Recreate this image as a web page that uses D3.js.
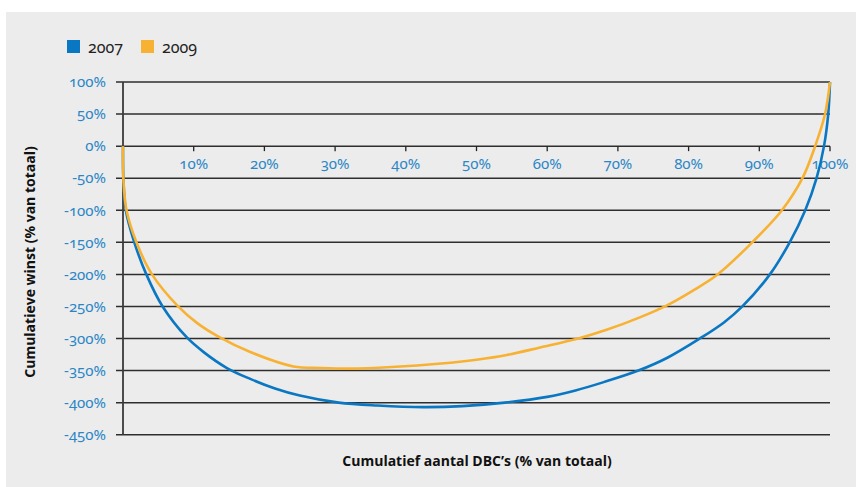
<!DOCTYPE html>
<html>
<head>
<meta charset="utf-8">
<script src="https://cdn.jsdelivr.net/npm/d3@7"></script>
<style>
  html, body { margin: 0; padding: 0; background: #ffffff; }
  svg { display: block; }
  .tick-label { font-family: "Noto Sans", sans-serif; font-variant-numeric: oldstyle-nums; font-feature-settings: "onum" 1; fill: #2a86c6; font-size: 15px; }
  .legend-text { font-family: "Noto Sans", sans-serif; font-variant-numeric: oldstyle-nums; font-feature-settings: "onum" 1; fill: #222; font-size: 16px; }
  .axis-title { font-family: "Open Sans", "Noto Sans", sans-serif; font-weight: 700; font-size: 14px; fill: #111; }
</style>
</head>
<body>
<script>
// Cumulative share of DBCs (%) against cumulative profit (% of total)
const seriesNames = ["2007", "2009"];
const seriesColors = ["#0a77c2", "#f8b233"];

const x2007 = [0, 0.05, 0.4, 1.6, 3.3, 5.6, 9.0, 11.5, 14.7, 18, 21.5, 25, 30.5, 36, 42.5, 48, 54, 60, 64, 68, 72.9, 77, 81.6, 85, 87.6, 91.5, 94.3, 96.5, 98.1, 99.15, 99.75, 100];
const y2007 = [0, -50, -100, -150, -200, -250, -298, -322, -346, -363, -378, -389, -400, -404.5, -407, -405.5, -400, -391, -381, -368, -350, -330, -300, -275, -250, -200, -150, -100, -50, 0, 50, 100];

const x2009 = [0, 0.05, 0.5, 1.9, 4.1, 7.8, 10.5, 13.5, 18, 24.1, 28, 32, 38, 45, 50, 54.3, 59, 64.4, 68.4, 73.1, 76.8, 80.5, 84, 89, 93.2, 96.1, 97.9, 99.3, 100];
const y2009 = [0, -50, -100, -150, -200, -250, -276, -297, -321, -343.6, -346, -347, -344.5, -339, -333, -325.6, -314, -300, -286.5, -267, -249, -226, -201, -150, -100, -50, 0, 50, 100];

const xTicks = [10, 20, 30, 40, 50, 60, 70, 80, 90, 100];
const yTicks = [100, 50, 0, -50, -100, -150, -200, -250, -300, -350, -400, -450];

const xTitle = "Cumulatief aantal DBC\u2019s (% van totaal)";
const yTitle = "Cumulatieve winst (% van totaal)";

const W = 856, H = 487;
const svg = d3.select("body").append("svg").attr("width", W).attr("height", H);

// panel background
svg.append("rect").attr("x", 6).attr("y", 12).attr("width", W - 6).attr("height", H - 12).attr("fill", "#ececec");

const x = d3.scaleLinear().domain([0, 100]).range([123, 830]);
const y = d3.scaleLinear().domain([-450, 100]).range([434.7, 82]);

// horizontal grid lines, extending left of the axis as ticks
svg.append("g").selectAll("line").data(yTicks).join("line")
  .attr("x1", 116).attr("x2", 830)
  .attr("y1", d => y(d)).attr("y2", d => y(d))
  .attr("stroke", "#2e2e2e").attr("stroke-width", 1.5);

// y tick labels
svg.append("g").selectAll("text").data(yTicks).join("text")
  .attr("class", "tick-label")
  .attr("x", 106).attr("y", d => y(d)).attr("dy", "0.35em")
  .attr("text-anchor", "end")
  .text(d => d + "%");

// vertical axis line
svg.append("line").attr("x1", x(0)).attr("x2", x(0)).attr("y1", y(100)).attr("y2", y(-450))
  .attr("stroke", "#3a3a3a").attr("stroke-width", 1.8);

// x ticks on the zero line
svg.append("g").selectAll("line").data(xTicks).join("line")
  .attr("x1", d => x(d)).attr("x2", d => x(d))
  .attr("y1", y(0)).attr("y2", y(0) + 5)
  .attr("stroke", "#222").attr("stroke-width", 1.3);

svg.append("g").selectAll("text").data(xTicks).join("text")
  .attr("class", "tick-label")
  .attr("x", d => x(d)).attr("y", y(0) + 18).attr("dy", "0.35em")
  .attr("text-anchor", "middle")
  .text(d => d + "%");

// series lines
const line = d3.line().x(d => x(d[0])).y(d => y(d[1])).curve(d3.curveCatmullRom.alpha(0.5));
const data = [d3.zip(x2007, y2007), d3.zip(x2009, y2009)];

svg.append("g").selectAll("path").data(data).join("path")
  .attr("d", line)
  .attr("fill", "none")
  .attr("stroke", (d, i) => seriesColors[i])
  .attr("stroke-width", 2.6)
  .attr("stroke-linejoin", "round");

// legend
const legend = svg.append("g");
const lx = [67, 141];
seriesNames.forEach((name, i) => {
  legend.append("rect").attr("x", lx[i]).attr("y", 40).attr("width", 13).attr("height", 13).attr("fill", seriesColors[i]);
  legend.append("text").attr("class", "legend-text").attr("x", lx[i] + 21).attr("y", 47).attr("dy", "0.35em").text(name);
});

// axis titles
svg.append("text").attr("class", "axis-title")
  .attr("x", 477).attr("y", 466).attr("text-anchor", "middle").text(xTitle);

svg.append("text").attr("class", "axis-title")
  .attr("transform", "translate(35,262) rotate(-90)")
  .attr("text-anchor", "middle").text(yTitle);
</script>
</body>
</html>
